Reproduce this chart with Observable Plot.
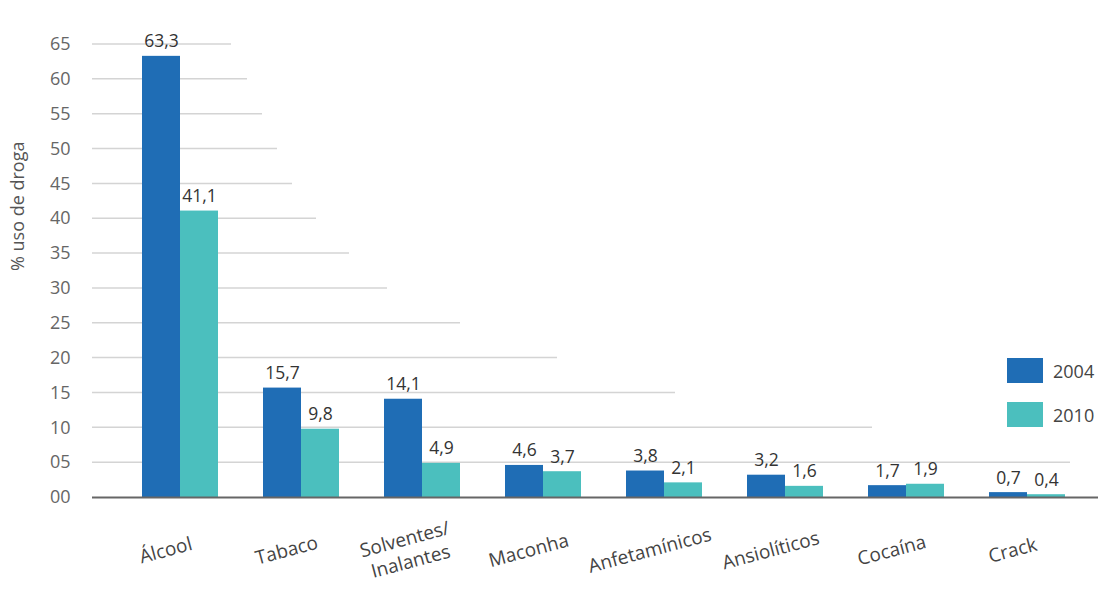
<!DOCTYPE html>
<html>
<head>
<meta charset="utf-8">
<script src="https://cdn.jsdelivr.net/npm/d3@7"></script>
<script src="https://cdn.jsdelivr.net/npm/@observablehq/plot@0.6"></script>
<style>
  html, body { margin: 0; padding: 0; background: #fff; }
  #wrap { position: relative; width: 1098px; height: 594px; font-family: "Open Sans", "Noto Sans", sans-serif; }
  .legend { position: absolute; left: 1007px; top: 358px; }
  .legend .item { display: flex; align-items: center; height: 25px; margin-bottom: 19px; }
  .legend .sw { width: 36px; height: 25px; margin-right: 10px; }
  .legend .lb { font-size: 18px; color: #444; }
</style>
</head>
<body>
<div id="wrap"></div>
<script>
// ---- data ----
const categories = ["Álcool", "Tabaco", "Solventes/\nInalantes", "Maconha", "Anfetamínicos", "Ansiolíticos", "Cocaína", "Crack"];
const values2004 = [63.3, 15.7, 14.1, 4.6, 3.8, 3.2, 1.7, 0.7];
const values2010 = [41.1, 9.8, 4.9, 3.7, 2.1, 1.6, 1.9, 0.4];
const seriesNames = ["2004", "2010"];
const yTicks = [0, 5, 10, 15, 20, 25, 30, 35, 40, 45, 50, 55, 60, 65];
const yLabel = "% uso de droga";

// ---- layout / style ----
const colors = {"2004": "#1f6db5", "2010": "#4bbfbe"};
const W = 1098, H = 594;
const mLeft = 92, mTop = 44, mBottom = 97, mRight = 0;
// decorative staircase gridline right ends (px), matched to yTicks order
const gridEndPx = [null, 1070, 872, 675, 557, 460, 387, 349, 316, 292, 277, 262, 247, 231];
const half = 38;

const rows = categories.map((c, i) => ({cat: c, a: values2004[i], b: values2010[i]}));
const fmt = v => v.toFixed(1).replace(".", ",");
const fontFam = '"Open Sans", "Noto Sans", sans-serif';

function gridMark(index, scales, values, dimensions) {
  const g = d3.create("svg:g").attr("stroke", "#d4d4d4").attr("stroke-width", 1.5);
  yTicks.forEach((t, i) => {
    if (gridEndPx[i] == null) return;
    const y = scales.y(t);
    g.append("line").attr("x1", dimensions.marginLeft).attr("x2", gridEndPx[i]).attr("y1", y).attr("y2", y);
  });
  return g.node();
}

const plot = Plot.plot({
  width: W, height: H,
  marginLeft: mLeft, marginRight: mRight, marginTop: mTop, marginBottom: mBottom,
  style: {fontFamily: fontFam, background: "#fff"},
  x: {domain: categories, range: [94.4, 1112.6], paddingInner: 0.375, paddingOuter: 0.375, axis: null},
  y: {domain: [0, 65], ticks: yTicks, label: null},
  marks: [
    gridMark,
    Plot.axisY({ticks: yTicks, tickSize: 0, tickPadding: 22, tickFormat: d => String(d).padStart(2, "0"), fontSize: 18, fill: "#666", label: null}),
    Plot.barY(rows, {x: "cat", y: "a", fill: colors["2004"], insetRight: half}),
    Plot.barY(rows, {x: "cat", y: "b", fill: colors["2010"], insetLeft: half}),
    Plot.ruleY([0], {stroke: "#666", strokeWidth: 2}),
    Plot.text(rows, {x: "cat", y: "a", text: d => fmt(d.a), dx: -19, dy: -9, lineAnchor: "bottom", fontSize: 17.5, fill: "#333"}),
    Plot.text(rows, {x: "cat", y: "b", text: d => fmt(d.b), dx: 19, dy: -9, lineAnchor: "bottom", fontSize: 17.5, fill: "#333"}),
    Plot.text(rows, {x: "cat", y: () => 0, text: "cat", dx: -15, dy: 52, rotate: -15, lineAnchor: "middle", textAnchor: "middle", fontSize: 19, fill: "#444", lineHeight: 1.2}),
    Plot.text([yLabel], {frameAnchor: "left", text: d => d, rotate: -90, dx: -74, fontSize: 18, fill: "#555"})
  ]
});

const wrap = document.getElementById("wrap");
wrap.appendChild(plot);
const lg = document.createElement("div");
lg.className = "legend";
seriesNames.forEach(s => {
  const it = document.createElement("div");
  it.className = "item";
  it.innerHTML = `<div class="sw" style="background:${colors[s]}"></div><div class="lb">${s}</div>`;
  lg.appendChild(it);
});
wrap.appendChild(lg);
</script>
</body>
</html>
